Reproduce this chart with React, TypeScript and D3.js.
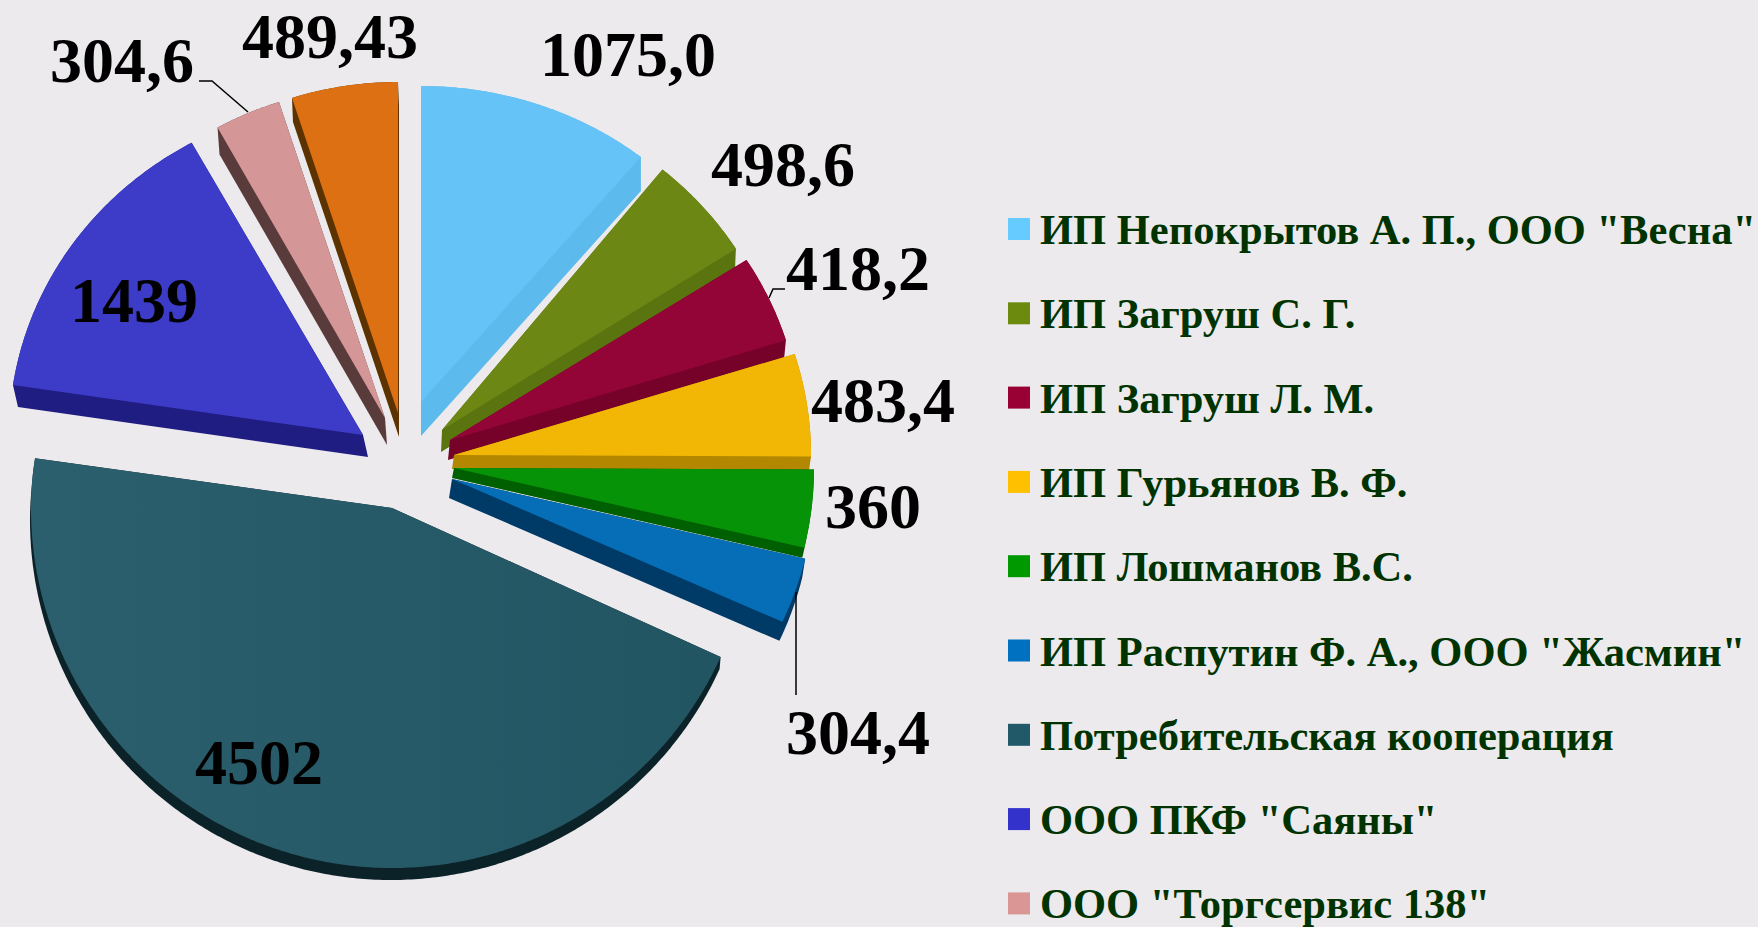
import React from "react";
import * as d3 from "d3";

const categories = [
  'ИП Непокрытов А. П., ООО "Весна"',
  "ИП Загруш С. Г.",
  "ИП Загруш Л. М.",
  "ИП Гурьянов В. Ф.",
  "ИП Лошманов В.С.",
  'ИП Распутин Ф. А., ООО "Жасмин"',
  "Потребительская кооперация",
  'ООО ПКФ "Саяны"',
  'ООО "Торгсервис 138"',
  "",
];
const values = [1075.0, 498.6, 418.2, 483.4, 360, 304.4, 4502, 1439, 304.6, 489.43];
const valueLabels = ["1075,0", "498,6", "418,2", "483,4", "360", "304,4", "4502", "1439", "304,6", "489,43"];

const topColors = ["#66C3F7", "#6C8713", "#930537", "#F2B705", "#079307", "#066DB7", "url(#bigSlice)", "#3D3CC8", "#D49696", "#DE7014"];
const sideColors = ["#5CBAEC", "#5A7410", "#76022A", "#B38800", "#005F00", "#003A66", "#0C2229", "#1F1D82", "#5A3B3B", "#5B3200"];
const swatchColors = ["#66CCFF", "#6C8A0E", "#990033", "#FFC000", "#009900", "#0070C0", "#215968", "#3333CC", "#DA9694", "#E46C0A"];

// Exploded-slice geometry of the tilted pie
const CENTER: [number, number] = [405, 455];
const explode: [number, number][] = [[16, -53], [37, -25], [45, -15], [49, 0], [49, 13], [47, 24], [-13, 53], [-42, -20], [-20, -37], [-7, -42]];
const radiusX = [348, 349, 352, 357, 360, 363, 361, 354, 346, 346];
const radiusYUp = [316, 336, 334, 338, 345, 345, 333, 334, 332, 331];
const radiusYDown = [316, 336, 334, 338, 345, 345, 360, 334, 332, 331];
const depth: [number, number][] = [[0, 34], [-1, 22], [-2, 20], [-2, 14], [-2, 10], [-3, 19], [-1, 12], [5, 22], [2, 27], [1, 24]];

const labelPos: [number, number][] = [[540, 76], [711, 186], [786, 290], [811, 422], [825, 528], [786, 754], [195, 784], [70, 322], [50, 82], [242, 58]];

const leaders: [number, number][][] = [
  [[199, 81], [212, 81], [248, 112]],
  [[785, 289], [773, 289], [769, 298]],
  [[796, 592], [796, 695]],
];

const LEGEND_X = 1008;
const LEGEND_Y0 = 218;
const LEGEND_STEP = 84.3;

const FONT = '"Liberation Serif", "Times New Roman", serif';

export default function App() {
  const arcs = d3.pie<number>().sort(null)(values);
  const line = d3.line();
  const shapes = arcs.map((a, i) => {
    const ax = CENTER[0] + explode[i][0];
    const ay = CENTER[1] + explode[i][1];
    const n = Math.max(4, Math.ceil((a.endAngle - a.startAngle) / 0.01));
    const pts: [number, number][] = [[ax, ay]];
    d3.range(n + 1).forEach((k) => {
      const t = a.startAngle + ((a.endAngle - a.startAngle) * k) / n;
      const c = Math.cos(t);
      pts.push([ax + radiusX[i] * Math.sin(t), ay - (c >= 0 ? radiusYUp[i] : radiusYDown[i]) * c]);
    });
    const shifted = pts.map((p) => [p[0] + depth[i][0], p[1] + depth[i][1]] as [number, number]);
    const hull = d3.polygonHull(pts.concat(shifted)) as [number, number][];
    return { top: line(pts) + "Z", side: line(hull) + "Z" };
  });

  return (
    <svg
      width={1758}
      height={927}
      viewBox="0 0 1758 927"
      style={{ position: "absolute", left: 0, top: 0, background: "#ECEAED" }}
    >
      <defs>
        <linearGradient id="bigSlice" x1="0" y1="0" x2="1" y2="0">
          <stop offset="0" stopColor="#2B5F6D" />
          <stop offset="1" stopColor="#225562" />
        </linearGradient>
      </defs>
      <rect width={1758} height={927} fill="#ECEAED" />
      {shapes.map((s, i) => (
        <g key={i}>
          <path d={s.side} fill={sideColors[i]} />
          <path d={s.top} fill={topColors[i]} />
        </g>
      ))}
      {leaders.map((l, i) => (
        <path key={i} d={line(l) as string} fill="none" stroke="#000" strokeWidth={1.5} />
      ))}
      {valueLabels.map((t, i) => (
        <text key={i} x={labelPos[i][0]} y={labelPos[i][1]} fontFamily={FONT} fontWeight="bold" fontSize={64} fill="#000">
          {t}
        </text>
      ))}
      {categories.map((c, i) =>
        c ? (
          <g key={i}>
            <rect x={LEGEND_X} y={LEGEND_Y0 + i * LEGEND_STEP} width={22} height={22} fill={swatchColors[i]} />
            <text x={LEGEND_X + 32} y={LEGEND_Y0 + i * LEGEND_STEP + 26} fontFamily={FONT} fontWeight="bold" fontSize={42.5} fill="#003300">
              {c}
            </text>
          </g>
        ) : null
      )}
    </svg>
  );
}
